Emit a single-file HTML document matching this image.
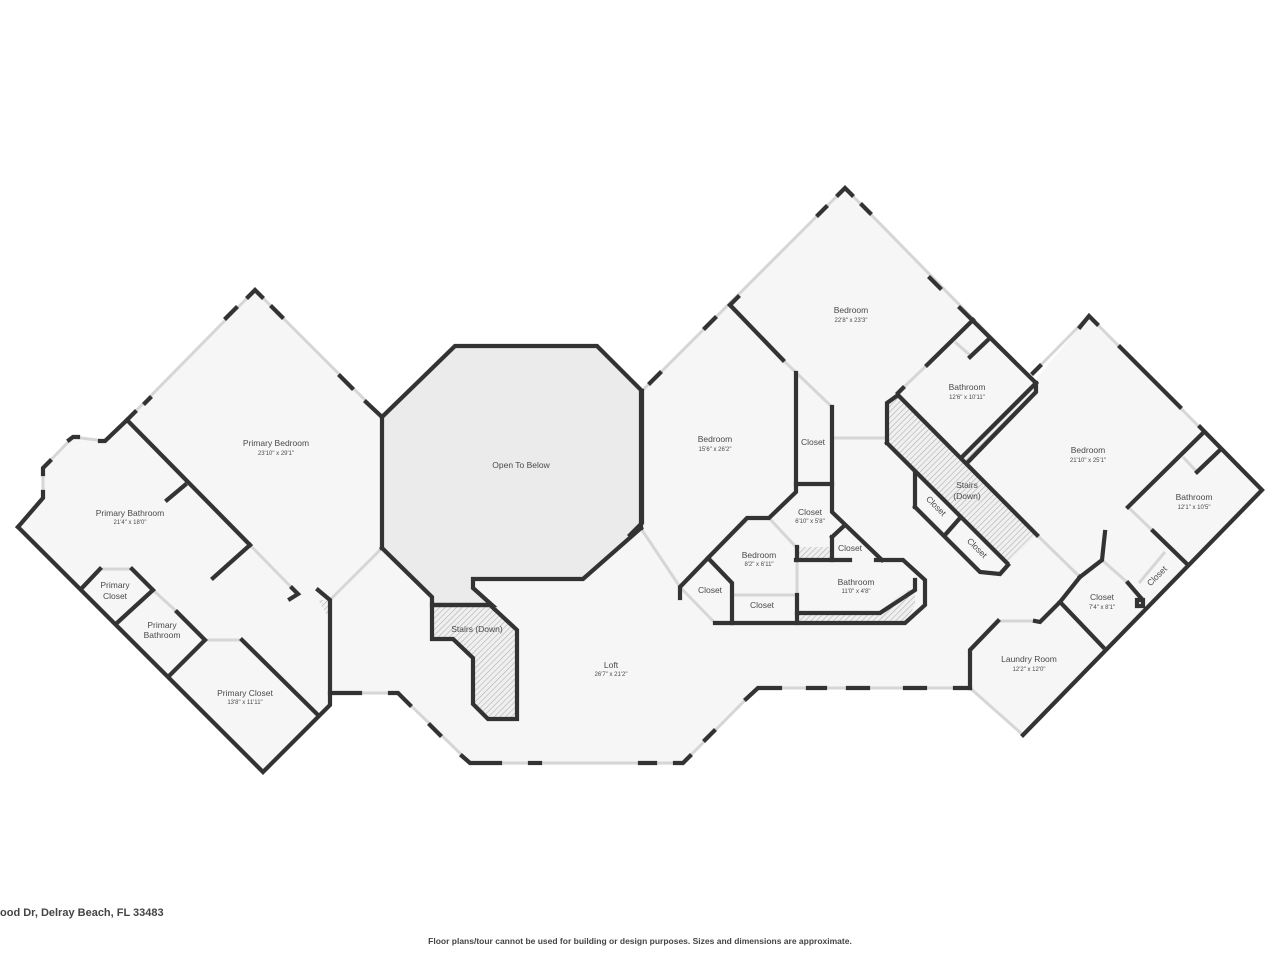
<!DOCTYPE html>
<html><head><meta charset="utf-8"><style>
html,body{margin:0;padding:0;background:#fff;width:1280px;height:960px;overflow:hidden}
svg{display:block}
.w{fill:none;stroke:#333;stroke-width:4.2;stroke-linecap:square;stroke-linejoin:miter}
.win{fill:none;stroke:#d6d6d6;stroke-width:3}
.l{font-family:"Liberation Sans",sans-serif;font-size:8.5px;fill:#4a4a4a;text-anchor:middle}
.d{font-family:"Liberation Sans",sans-serif;font-size:6px;fill:#4a4a4a;text-anchor:middle}
.h{fill:url(#hatch);stroke:none}
</style></head><body>
<svg width="1280" height="960" viewBox="0 0 1280 960">
<defs>
<pattern id="hatch" width="4" height="4" patternUnits="userSpaceOnUse" patternTransform="rotate(45)">
<rect width="4" height="4" fill="#f0f0f0"/><line x1="0" y1="0" x2="0" y2="4" stroke="#b0b0b0" stroke-width="1.2"/>
</pattern>
</defs>
<g fill="#f6f6f6" stroke="none">
<polygon points="18,527 43,498 43,468 73,437 105,441 127,420 255,290 382,417 382,548 330,600 330,705 263,772"/>
<polygon points="330,600 382,548 432,598 432,606 474,606 474,578 587,578 641,528 641,688 757,688 683,765 468,765 403,693 330,693"/>
<polygon points="641,390 845,188 1035,380 1089,316 1262,490 1023,735 970,688 641,688"/>
</g>
<polygon points="382,417 455,346 597,346 641,390 641,528 587,578 474,578 474,588 492,605 432,605 432,597 382,548" fill="#ebebeb"/>
<polygon class="h" points="432,605 490,605 517,630 517,719 488,719 473,704 473,658 453,639 432,639"/>
<polygon class="h" points="887,403 898,395 1037,535 1007,563 887,443"/>
<polygon class="h" points="962,457 1036,383 1036,392 968,462"/>
<polygon class="h" points="796,547 832,547 832,560 796,560"/>
<polygon class="h" points="797,613 880,613 905,590 915,590 915,605 905,623 797,623"/>
<polygon class="h" points="318,600 330,600 330,620"/>
<g class="win">
<line x1="382" y1="548" x2="330" y2="600"/>
<line x1="127" y1="420" x2="255" y2="290"/>
<line x1="255" y1="290" x2="382" y2="417"/>
<line x1="250" y1="545" x2="292" y2="588"/>
<line x1="845" y1="188" x2="642" y2="391"/>
<line x1="845" y1="188" x2="1036" y2="383"/>
<line x1="1033" y1="373" x2="1089" y2="316"/>
<line x1="1089" y1="316" x2="1262" y2="490"/>
<line x1="1037" y1="535" x2="1080" y2="577"/>
<line x1="642" y1="530" x2="680" y2="587"/>
<line x1="708" y1="558" x2="747" y2="520"/>
<line x1="769" y1="518" x2="796" y2="547"/>
<line x1="783" y1="360" x2="832" y2="407"/>
<line x1="832" y1="438" x2="887" y2="438"/>
<line x1="680" y1="587" x2="715" y2="623"/>
<line x1="732" y1="595" x2="797" y2="595"/>
<line x1="797" y1="560" x2="797" y2="613"/>
<line x1="927" y1="365" x2="903" y2="388"/>
<line x1="1153" y1="531" x2="1128" y2="507"/>
<line x1="1102" y1="560" x2="1128" y2="583"/>
<line x1="1139" y1="583" x2="1165" y2="552"/>
<line x1="330" y1="693" x2="398" y2="693"/>
<line x1="398" y1="693" x2="470" y2="763"/>
<line x1="470" y1="763" x2="683" y2="763"/>
<line x1="683" y1="763" x2="758" y2="687"/>
<line x1="758" y1="688" x2="970" y2="688"/>
<line x1="998" y1="621" x2="1035" y2="621"/>
<line x1="970" y1="688" x2="1023" y2="735"/>
<line x1="43" y1="468" x2="73" y2="437"/>
<line x1="73" y1="437" x2="105" y2="441"/>
<line x1="43" y1="498" x2="43" y2="468"/>
<line x1="132" y1="569" x2="100" y2="569"/>
<line x1="153" y1="590" x2="177" y2="612"/>
<line x1="205" y1="640" x2="242" y2="640"/>
<line x1="955" y1="342" x2="972" y2="357"/>
<line x1="1197" y1="472" x2="1183" y2="457"/>
</g>
<g class="w">
<polyline points="18,527 43,498 43,492"/>
<polyline points="43,474 43,468 50,461"/>
<polyline points="69,440 73,437 78,437"/>
<polyline points="100,441 105,441 127,420 135,412"/>
<polyline points="145,403 150,398"/>
<polyline points="226,318 236,308"/>
<polyline points="248,297 255,290 262,297"/>
<polyline points="272,307 282,317"/>
<polyline points="340,376 352,388"/>
<polyline points="366,402 382,417 382,548"/>
<polyline points="18,527 263,772 330,705 330,600 318,590"/>
<polyline points="127,420 250,545"/>
<polyline points="292,588 298,594 290,599"/>
<polyline points="185,485 167,500"/>
<polyline points="250,545 213,578"/>
<polyline points="82,588 100,569"/>
<polyline points="132,569 153,590 118,622"/>
<polyline points="177,612 205,640 170,675"/>
<polyline points="242,640 318,715"/>
<polyline points="382,417 455,346 597,346 641,390 641,528"/>
<polyline points="641,528 583,579 473,579 473,588 492,605 432,605 432,597 382,548"/>
<polyline points="432,605 490,605 517,630 517,719 488,719 473,704 473,658 453,639 432,639 432,605"/>
<polyline points="330,693 360,693"/>
<polyline points="390,693 398,693 410,705"/>
<polyline points="430,725 440,735"/>
<polyline points="462,756 470,763 500,763"/>
<polyline points="530,763 540,763"/>
<polyline points="640,763 655,763"/>
<polyline points="675,763 683,763 690,756"/>
<polyline points="705,740 714,731"/>
<polyline points="746,699 758,688 780,688"/>
<polyline points="808,688 825,688"/>
<polyline points="848,688 868,688"/>
<polyline points="905,688 925,688"/>
<polyline points="955,688 970,688"/>
<polyline points="642,391 642,523 630,535"/>
<polyline points="650,383 660,373"/>
<polyline points="705,328 715,318"/>
<polyline points="730,305 738,297"/>
<polyline points="818,215 826,207"/>
<polyline points="838,195 845,188 852,195"/>
<polyline points="862,205 870,213"/>
<polyline points="930,278 940,288"/>
<polyline points="960,308 1036,383"/>
<polyline points="730,305 783,360"/>
<polyline points="796,373 796,492 769,518 747,518 708,558 680,587 680,598"/>
<polyline points="832,407 832,512 882,560"/>
<polyline points="796,484 832,484"/>
<polyline points="832,537 845,525"/>
<polyline points="832,537 832,560"/>
<polyline points="796,560 850,560"/>
<polyline points="876,560 903,560 925,580 925,605 905,623 715,623"/>
<polyline points="797,613 880,613 915,590 915,580"/>
<polyline points="708,558 732,583 732,623"/>
<polyline points="797,547 797,560"/>
<polyline points="797,595 797,623"/>
<polyline points="887,443 887,403 898,395 1037,535"/>
<polyline points="887,443 1007,563"/>
<polyline points="915,472 915,507"/>
<polyline points="915,507 980,572 1000,574 1008,565"/>
<polyline points="960,518 945,535"/>
<polyline points="973,320 927,365"/>
<polyline points="903,388 898,393"/>
<polyline points="1036,383 962,457"/>
<polyline points="990,338 970,357"/>
<polyline points="1036,383 1036,392 968,462"/>
<polyline points="1033,373 1040,366"/>
<polyline points="1080,327 1089,316 1097,324"/>
<polyline points="1120,347 1180,407"/>
<polyline points="1200,427 1262,490 1023,735"/>
<polyline points="1203,433 1128,507"/>
<polyline points="1220,450 1197,472"/>
<polyline points="1153,531 1186,563"/>
<polyline points="1080,577 1102,560 1105,532"/>
<polyline points="1080,577 1060,602 1040,622 1035,621"/>
<polyline points="1060,602 1103,647"/>
<polyline points="1128,583 1141,598"/>
<polyline points="1137,600 1143,600 1143,606 1137,606 1137,600"/>
<polyline points="998,621 970,650 970,688"/>
</g>
<text class="l" x="276" y="446">Primary Bedroom</text><text class="d" x="276" y="455">23'10" x 29'1"</text>
<text class="l" x="130" y="516">Primary Bathroom</text><text class="d" x="130" y="524">21'4" x 18'0"</text>
<text class="l" x="115" y="588">Primary</text><text class="l" x="115" y="599">Closet</text>
<text class="l" x="162" y="628">Primary</text><text class="l" x="162" y="638">Bathroom</text>
<text class="l" x="245" y="696">Primary Closet</text><text class="d" x="245" y="704">13'8" x 11'11"</text>
<text class="l" x="521" y="468">Open To Below</text>
<text class="l" x="477" y="632">Stairs (Down)</text>
<text class="l" x="611" y="668">Loft</text><text class="d" x="611" y="676">26'7" x 21'2"</text>
<text class="l" x="715" y="442">Bedroom</text><text class="d" x="715" y="451">15'6" x 26'2"</text>
<text class="l" x="851" y="313">Bedroom</text><text class="d" x="851" y="322">22'8" x 23'3"</text>
<text class="l" x="813" y="445">Closet</text>
<text class="l" x="810" y="515">Closet</text><text class="d" x="810" y="523">6'10" x 5'8"</text>
<text class="l" x="850" y="551">Closet</text>
<text class="l" x="759" y="558">Bedroom</text><text class="d" x="759" y="566">8'2" x 6'11"</text>
<text class="l" x="856" y="585">Bathroom</text><text class="d" x="856" y="593">11'0" x 4'8"</text>
<text class="l" x="710" y="593">Closet</text>
<text class="l" x="762" y="608">Closet</text>
<text class="l" x="967" y="390">Bathroom</text><text class="d" x="967" y="399">12'6" x 10'11"</text>
<text class="l" x="967" y="488">Stairs</text><text class="l" x="967" y="499">(Down)</text>
<text class="l" transform="translate(934,508) rotate(45)">Closet</text>
<text class="l" transform="translate(975,550) rotate(45)">Closet</text>
<text class="l" x="1088" y="453">Bedroom</text><text class="d" x="1088" y="462">21'10" x 25'1"</text>
<text class="l" x="1194" y="500">Bathroom</text><text class="d" x="1194" y="509">12'1" x 10'5"</text>
<text class="l" x="1102" y="600">Closet</text><text class="d" x="1102" y="609">7'4" x 8'1"</text>
<text class="l" transform="translate(1159,578) rotate(-45)">Closet</text>
<text class="l" x="1029" y="662">Laundry Room</text><text class="d" x="1029" y="671">12'2" x 12'0"</text>
<text x="0" y="916" style="font-family:'Liberation Sans',sans-serif;font-size:11px;font-weight:bold;fill:#444">ood Dr, Delray Beach, FL 33483</text>
<text x="640" y="944" text-anchor="middle" style="font-family:'Liberation Sans',sans-serif;font-size:8.5px;font-weight:bold;fill:#444">Floor plans/tour cannot be used for building or design purposes. Sizes and dimensions are approximate.</text>
</svg>
</body></html>
